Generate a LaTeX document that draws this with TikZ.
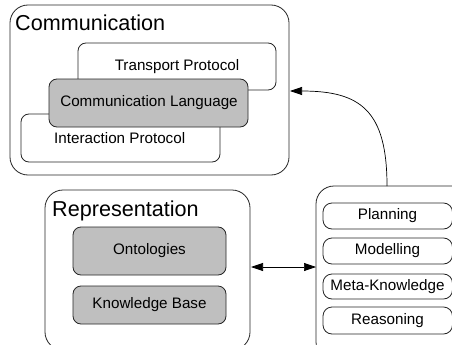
\documentclass[tikz,border=0pt]{standalone}
\usepackage{fontspec}
\setmainfont{Liberation Sans}
\usetikzlibrary{arrows.meta}
\begin{document}
\begin{tikzpicture}[x=1pt,y=-1pt,
  box/.style={draw=black!85, line width=0.8pt, rounded corners=#1},
  box/.default=10pt,
  gbox/.style={box=8pt, fill=black!25},
  big/.style={font=\fontsize{21.6}{24}\selectfont, inner sep=0pt, anchor=west},
  small/.style={font=\fontsize{15.2}{17}\selectfont, inner sep=0pt},
  conn/.style={draw=black, line width=0.7pt, -{Triangle[length=12pt,width=8pt]}}]
\useasboundingbox (0,0) rectangle (452,345);
\clip (0,0) rectangle (452,345);
\fill[white] (0,0) rectangle (452,345);
% Communication
\draw[box=18pt] (10,5) rectangle (289,175);
\node[big] (commt) at (15,23) {Communication};
\draw[box=8pt, fill=white] (78,43) rectangle (276,90);
\node[small] (tp) at (177,67) {Transport Protocol};
\draw[box=8pt, fill=white] (21,114) rectangle (220,162);
\node[small, anchor=west] (ip) at (54,138) {Interaction Protocol};
\draw[gbox] (49,79) rectangle (248,127);
\node[small] (cl) at (149,103) {Communication Language};
\coordinate (commE) at (290,91);
% Representation
\draw[box=18pt] (45,190) rectangle (250,350);
\node[big] (rept) at (52,211) {Representation};
\draw[gbox] (73,227) rectangle (226,275);
\node[small] (onto) at (149.5,251) {Ontologies};
\draw[gbox] (73,286) rectangle (226,324);
\node[small] (kb) at (149.5,305) {Knowledge Base};
\coordinate (repE) at (251,267);
% Right box
\draw[box=18pt] (316,186) rectangle (470,360);
\coordinate (rTop) at (387,186);
\coordinate (rW) at (316,267);
\foreach \n/\t/\yt/\yb in {pl/Planning/203/229, mo/Modelling/238/264, mk/Meta-Knowledge/274/299, re/Reasoning/307/334}{
  \draw[box=9pt] (323,\yt) rectangle (452.5,\yb);
  \node[small] (\n) at (387.5,{(\yt+\yb)/2}) {\t};
}
% Connectors
\draw[conn] (rTop) .. controls (387,110) and (360,91) .. (commE);
\draw[conn, {Triangle[length=12pt,width=8pt]}-{Triangle[length=12pt,width=8pt]}] (repE) -- (rW);
\end{tikzpicture}
\end{document}
